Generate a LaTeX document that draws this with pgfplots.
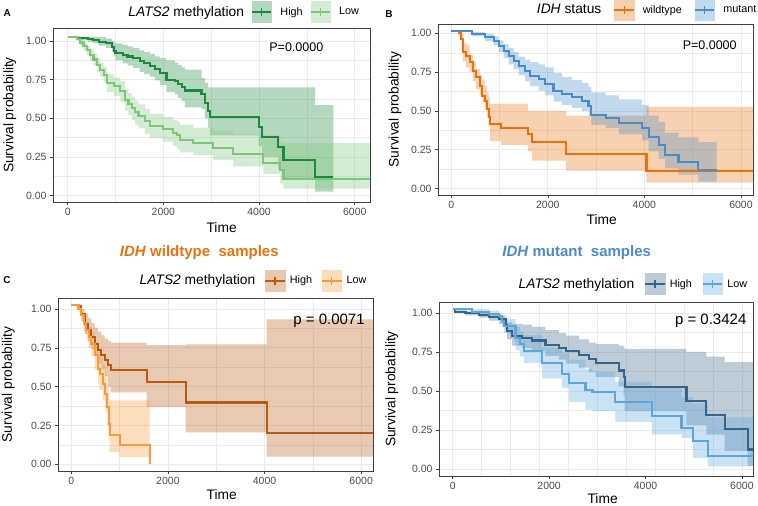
\documentclass[border=0pt]{standalone}
\usepackage{pgfplots}
\pgfplotsset{compat=1.18}
\usepackage{pgfplotstable}
\usepackage{fontspec}
\setmainfont{Liberation Sans}

\definecolor{cAH}{RGB}{27,138,62}
\definecolor{cAL}{RGB}{125,198,122}
\definecolor{cBW}{RGB}{230,115,14}
\definecolor{cBM}{RGB}{74,140,200}
\definecolor{cCH}{RGB}{184,90,20}
\definecolor{cCL}{RGB}{245,155,60}
\definecolor{cDH}{RGB}{58,99,137}
\definecolor{cDL}{RGB}{91,166,223}

% ---------- Panel A: curves ----------
\pgfplotstableread{
t s
0 1.028
200 1.02
420 1.013
520 1.005
650 0.995
800 0.985
930 0.96
970 0.935
1000 0.922
1150 0.91
1250 0.90
1360 0.89
1505 0.869
1600 0.855
1715 0.84
1820 0.82
1925 0.793
2065 0.75
2240 0.74
2310 0.72
2380 0.70
2450 0.68
2797 0.655
2866 0.60
2935 0.546
2970 0.511
3990 0.446
4060 0.381
4400 0.317
4510 0.231
5170 0.123
5550 0.123
}\tAH
\pgfplotstableread{
t s
0 1.028
190 1.01
260 0.99
330 0.966
400 0.94
470 0.911
540 0.88
610 0.847
680 0.815
750 0.782
820 0.728
960 0.707
1100 0.675
1200 0.62
1270 0.595
1340 0.567
1410 0.54
1480 0.513
1620 0.48
1715 0.449
2000 0.43
2200 0.405
2280 0.394
2345 0.36
2625 0.339
3040 0.308
3460 0.269
4090 0.211
4440 0.168
4510 0.11
6400 0.11
}\tAL
% ---------- Panel A: confidence bands (upper edge forward, lower edge back) ----------
\pgfplotstableread{
x y
0 1.028
200 1.028
420 1.028
520 1.028
650 1.025
800 1.015
930 1.0
970 0.99
1000 0.985
1150 0.975
1250 0.965
1360 0.955
1505 0.94
1600 0.93
1715 0.915
1820 0.90
1925 0.89
2065 0.875
2240 0.86
2310 0.845
2380 0.83
2450 0.815
2797 0.76
2866 0.73
2935 0.70
2970 0.70
3990 0.70
4060 0.70
4400 0.70
4510 0.70
5170 0.585
5550 0.585
5550 0.026
5170 0.11
4510 0.17
4400 0.25
4060 0.32
3990 0.39
2970 0.44
2935 0.50
2866 0.56
2797 0.57
2450 0.61
2380 0.63
2310 0.655
2240 0.67
2065 0.715
1925 0.745
1820 0.77
1715 0.785
1600 0.80
1505 0.825
1360 0.84
1250 0.855
1150 0.875
1000 0.90
970 0.93
930 0.955
800 0.97
650 0.985
520 0.995
420 1.005
200 1.028
0 1.028
}\bAH
\pgfplotstableread{
x y
0 1.028
190 1.028
260 1.015
330 0.99
400 0.97
470 0.945
540 0.92
610 0.89
680 0.86
750 0.835
820 0.785
960 0.765
1100 0.74
1200 0.69
1270 0.665
1340 0.64
1410 0.615
1480 0.59
1620 0.56
1715 0.53
2000 0.51
2200 0.49
2280 0.48
2345 0.46
2625 0.44
3040 0.42
3460 0.40
4090 0.39
4440 0.35
4510 0.34
6400 0.34
6400 0.045
4510 0.08
4440 0.14
4090 0.19
3460 0.23
3040 0.26
2625 0.28
2345 0.30
2280 0.32
2200 0.35
2000 0.37
1715 0.40
1620 0.435
1480 0.46
1410 0.49
1340 0.52
1270 0.55
1200 0.605
1100 0.645
960 0.67
820 0.73
750 0.77
680 0.80
610 0.84
540 0.875
470 0.91
400 0.94
330 0.975
260 1.0
190 1.028
0 1.028
}\bAL
% ---------- Panel B ----------
\pgfplotstableread{
t s
0 1.013
152 1.0
207 0.963
241 0.878
310 0.856
380 0.813
448 0.76
517 0.717
586 0.663
635 0.598
690 0.566
745 0.513
773 0.46
807 0.416
1035 0.39
1587 0.352
1677 0.298
2381 0.223
4043 0.115
6400 0.115
}\tBW
\pgfplotstableread{
t s
0 1.013
427 0.995
703 0.974
876 0.952
980 0.92
1083 0.888
1187 0.856
1290 0.824
1394 0.79
1532 0.76
1635 0.727
1808 0.706
1946 0.674
2118 0.63
2290 0.609
2497 0.588
2705 0.566
2843 0.534
2900 0.474
3199 0.453
3473 0.421
3952 0.388
4089 0.335
4295 0.281
4432 0.217
4706 0.174
5117 0.12
5494 0.12
}\tBM
\pgfplotstableread{
x y
0 1.013
152 1.013
207 0.995
241 0.94
310 0.925
380 0.86
448 0.82
517 0.77
586 0.73
635 0.70
690 0.66
745 0.62
773 0.59
807 0.545
1035 0.545
1587 0.50
1677 0.50
2381 0.47
4043 0.526
6400 0.526
6400 0.038
4043 0.116
2381 0.18
1677 0.24
1587 0.28
1035 0.306
807 0.40
773 0.46
745 0.51
690 0.56
635 0.60
586 0.64
517 0.69
448 0.75
380 0.78
310 0.82
241 0.90
207 0.98
152 1.013
0 1.013
}\bBW
\pgfplotstableread{
x y
0 1.013
427 1.01
703 0.995
876 0.98
980 0.955
1083 0.93
1187 0.905
1290 0.88
1394 0.85
1532 0.83
1635 0.815
1808 0.80
1946 0.78
2118 0.745
2290 0.72
2497 0.70
2705 0.68
2843 0.655
2900 0.62
3199 0.60
3473 0.575
3952 0.54
4089 0.47
4295 0.43
4432 0.36
4706 0.33
5117 0.30
5494 0.30
5494 0.045
5117 0.09
4706 0.13
4432 0.19
4295 0.24
4089 0.31
3952 0.35
3473 0.39
3199 0.41
2900 0.47
2843 0.50
2705 0.52
2497 0.54
2290 0.56
2118 0.60
1946 0.63
1808 0.66
1635 0.69
1532 0.73
1394 0.77
1290 0.80
1187 0.84
1083 0.88
980 0.92
876 0.95
703 0.98
427 1.013
0 1.013
}\bBM
% ---------- Panel C ----------
\pgfplotstableread{
t s
0 1.024
138 1.02
207 0.97
276 0.905
345 0.863
414 0.82
483 0.777
552 0.734
621 0.702
690 0.67
759 0.637
814 0.609
1560 0.532
2366 0.398
4043 0.204
6400 0.204
}\tCH
\pgfplotstableread{
t s
0 1.024
150 1.0
207 0.96
260 0.91
310 0.863
360 0.82
414 0.777
483 0.702
552 0.616
586 0.584
655 0.519
703 0.455
745 0.369
773 0.261
794 0.187
1000 0.122
1623 0.0
}\tCL
\pgfplotstableread{
x y
0 1.024
138 1.024
207 1.0
276 0.97
345 0.94
414 0.91
483 0.88
552 0.855
621 0.83
690 0.81
759 0.795
814 0.783
1560 0.768
2366 0.773
4043 0.933
6400 0.933
6400 0.049
4043 0.206
2366 0.369
1560 0.463
814 0.50
759 0.57
690 0.61
621 0.645
552 0.70
483 0.74
414 0.79
345 0.84
276 0.92
207 1.0
138 1.024
0 1.024
}\bCH
\pgfplotstableread{
x y
0 1.024
150 1.024
207 1.0
260 0.96
310 0.925
360 0.89
414 0.85
483 0.79
552 0.72
586 0.69
655 0.64
703 0.58
745 0.50
773 0.45
794 0.412
1000 0.412
1623 0.412
1623 0.047
1000 0.079
794 0.15
773 0.25
745 0.34
703 0.41
655 0.48
586 0.52
552 0.61
483 0.70
414 0.75
360 0.80
310 0.86
260 0.92
207 0.98
150 1.024
0 1.024
}\bCL
% ---------- Panel D ----------
\pgfplotstableread{
t s
0 1.024
57 1.008
265 0.997
542 0.987
749 0.974
957 0.959
1100 0.92
1130 0.884
1234 0.851
1441 0.84
1649 0.823
1925 0.797
2202 0.776
2346 0.756
2617 0.733
2824 0.707
2964 0.679
3444 0.631
3547 0.588
3567 0.528
4850 0.433
5262 0.347
5640 0.259
6119 0.125
6400 0.125
}\tDH
\pgfplotstableread{
t s
0 1.024
403 1.008
749 0.995
957 0.98
1026 0.948
1060 0.916
1303 0.84
1400 0.80
1476 0.754
1857 0.679
2271 0.61
2409 0.55
2755 0.507
2900 0.491
3375 0.427
4130 0.34
4747 0.265
4987 0.179
5296 0.086
6400 0.086
}\tDL
\pgfplotstableread{
x y
0 1.024
57 1.024
265 1.01
542 1.0
749 0.995
957 0.985
1100 0.96
1130 0.94
1234 0.93
1441 0.925
1649 0.91
1925 0.89
2202 0.87
2346 0.855
2617 0.83
2824 0.81
2964 0.80
3444 0.79
3547 0.78
3567 0.77
4850 0.75
5262 0.72
5640 0.685
6119 0.685
6400 0.685
6400 0.02
6119 0.114
5640 0.22
5262 0.28
4850 0.37
3567 0.47
3547 0.53
3444 0.59
2964 0.62
2824 0.65
2617 0.675
2346 0.70
2202 0.725
1925 0.755
1649 0.775
1441 0.79
1234 0.83
1130 0.88
1100 0.93
957 0.95
749 0.97
542 0.985
265 1.0
57 1.024
0 1.024
}\bDH
\pgfplotstableread{
x y
0 1.024
403 1.024
749 1.015
957 1.0
1026 0.98
1060 0.96
1303 0.91
1400 0.88
1476 0.86
1857 0.78
2271 0.74
2409 0.70
2755 0.64
2900 0.62
3375 0.56
4130 0.52
4747 0.46
4987 0.42
5296 0.33
6400 0.33
6400 0.017
5296 0.071
4987 0.20
4747 0.222
4130 0.30
3375 0.37
2900 0.38
2755 0.43
2409 0.52
2271 0.58
1857 0.68
1476 0.72
1400 0.76
1303 0.87
1060 0.91
1026 0.955
957 0.975
749 0.995
403 1.024
0 1.024
}\bDL

\newcommand{\kmband}[2]{%
  \addplot[fill=#2, fill opacity=0.33, draw=none, const plot, forget plot] table[x=x,y=y]{#1};
}
\newcommand{\kmline}[2]{%
  \addplot[#2, line width=2.1pt, const plot, forget plot] table[x=t,y=s]{#1};
}
\newcommand{\kmkey}[1]{%
  \addlegendimage{legend image code/.code={%
    \fill[#1!33] (0pt,-10.5pt) rectangle (19.5pt,10.5pt);
    \draw[#1, line width=2pt] (0pt,0pt)--(19.5pt,0pt);
    \draw[#1, line width=1.2pt] (9.75pt,-4pt)--(9.75pt,4pt);}}%
}
\newcommand{\ttl}{\fontsize{13.8}{15}\selectfont}

\pgfplotsset{km/.style={
  scale only axis,
  xtick={0,2000,4000,6000}, ytick={0,0.25,0.5,0.75,1},
  minor xtick={1000,3000,5000}, minor ytick={0.125,0.375,0.625,0.875},
  grid=both,
  major grid style={black!8, line width=0.8pt},
  minor grid style={black!8, line width=0.4pt},
  tick align=outside, tick pos=left,
  major tick length=3pt, minor tick length=0pt,
  tick style={black!75, line width=0.6pt},
  axis line style={black!75, line width=0.7pt},
  ticklabel style={font=\fontsize{10.5}{12}\selectfont, text=black!70},
  yticklabel style={/pgf/number format/fixed, /pgf/number format/fixed zerofill, /pgf/number format/precision=2},
  xticklabel style={/pgf/number format/1000 sep={}},
  /pgf/number format/assume math mode=true,
  xlabel={Time}, ylabel={Survival probability},
  label style={font=\fontsize{13.8}{15}\selectfont},
  legend style={draw=none, fill=none, inner sep=0pt, outer sep=0pt,
    font=\fontsize{10.8}{12}\selectfont, legend columns=3,
    nodes={inner sep=1pt}},
  legseps/.style 2 args={legend style={
    /tikz/every odd column/.append style={column sep=##1},
    /tikz/every even column/.append style={column sep=##2}}},
}}

\begin{document}
\begin{tikzpicture}
\useasboundingbox (0pt,0pt) rectangle (758pt,506pt);

% ===== A =====
\begin{axis}[km, at={(53pt,304pt)}, anchor=south west, width=317pt, height=174pt,
  xmin=-307, xmax=6318, ymin=-0.041, ymax=1.084,
  xlabel style={at={(axis description cs:0.532,-0.149)}, anchor=center},
  ylabel style={at={(axis description cs:-0.136,0.5)}, anchor=center},
  legseps={7pt}{6pt},
  legend style={at={(axis description cs:0.9685,1.092)}, anchor=east}]
\kmband{\bAH}{cAH}
\kmband{\bAL}{cAL}
\kmline{\tAH}{cAH}
\kmline{\tAL}{cAL}
\addlegendimage{empty legend}\addlegendentry{\ttl\textit{LATS2} methylation}
\kmkey{cAH}\addlegendentry{High}
\kmkey{cAL}\addlegendentry{Low}
\end{axis}

% ===== B =====
\begin{axis}[km, at={(438pt,311pt)}, anchor=south west, width=315pt, height=171pt,
  xmin=-275, xmax=6250, ymin=-0.041, ymax=1.06,
  xlabel style={at={(axis description cs:0.52,-0.146)}, anchor=center},
  ylabel style={at={(axis description cs:-0.1365,0.5)}, anchor=center},
  legseps={7pt}{11pt},
  legend style={at={(axis description cs:1.014,1.082)}, anchor=east}]
\kmband{\bBW}{cBW}
\kmband{\bBM}{cBM}
\kmline{\tBW}{cBW}
\kmline{\tBM}{cBM}
\addlegendimage{empty legend}\addlegendentry{\ttl\textit{IDH} status\hspace{9pt}}
\kmkey{cBW}\addlegendentry{wildtype}
\kmkey{cBM}\addlegendentry{mutant}
\end{axis}

% ===== C =====
\begin{axis}[km, at={(58pt,35pt)}, anchor=south west, width=315pt, height=173pt,
  xmin=-275, xmax=6245, ymin=-0.043, ymax=1.071,
  xlabel style={at={(axis description cs:0.52,-0.139)}, anchor=center},
  ylabel style={at={(axis description cs:-0.158,0.5)}, anchor=center},
  legseps={3pt}{8pt},
  legend style={at={(axis description cs:0.982,1.10)}, anchor=east}]
\kmband{\bCH}{cCH}
\kmband{\bCL}{cCL}
\kmline{\tCH}{cCH}
\kmline{\tCL}{cCL}
\addlegendimage{empty legend}\addlegendentry{\ttl\textit{LATS2} methylation}
\kmkey{cCH}\addlegendentry{High}
\kmkey{cCL}\addlegendentry{Low}
\end{axis}

% ===== D =====
\begin{axis}[km, at={(439pt,30pt)}, anchor=south west, width=314pt, height=174pt,
  xmin=-284, xmax=6230, ymin=-0.045, ymax=1.07,
  xmajorgrids=false,
  minor xtick={0,600,1200,1800,2400,3000,3600,4200,4800,5400,6000},
  xlabel style={at={(axis description cs:0.521,-0.128)}, anchor=center},
  ylabel style={at={(axis description cs:-0.15,0.5)}, anchor=center},
  legseps={3pt}{9pt},
  legend style={at={(axis description cs:0.985,1.103)}, anchor=east}]
\kmband{\bDH}{cDH}
\kmband{\bDL}{cDL}
\kmline{\tDH}{cDH}
\kmline{\tDL}{cDL}
\addlegendimage{empty legend}\addlegendentry{\ttl\textit{LATS2} methylation}
\kmkey{cDH}\addlegendentry{High}
\kmkey{cDL}\addlegendentry{Low}
\end{axis}

% ===== annotations =====
\node[font=\fontsize{10}{12}\selectfont\bfseries] at (7.3pt,493pt) {A};
\node[font=\fontsize{10}{12}\selectfont\bfseries] at (389pt,492pt) {B};
\node[font=\fontsize{10}{12}\selectfont\bfseries] at (7pt,226pt) {C};
\node[font=\fontsize{12.5}{14}\selectfont] at (296.3pt,458.3pt) {P=0.0000};
\node[font=\fontsize{12.5}{14}\selectfont] at (709.7pt,461pt) {P=0.0000};
\node[font=\fontsize{15}{17}\selectfont] at (329pt,185.3pt) {p = 0.0071};
\node[font=\fontsize{15}{17}\selectfont] at (710.7pt,185.3pt) {p = 0.3424};
\node[font=\fontsize{15}{17}\selectfont\bfseries, text=cBW] at (199.3pt,253.3pt) {\textit{IDH} wildtype\ \ samples};
\node[font=\fontsize{15}{17}\selectfont\bfseries, text=cBM] at (576.7pt,253.3pt) {\textit{IDH} mutant\ \ samples};
\end{tikzpicture}
\end{document}
